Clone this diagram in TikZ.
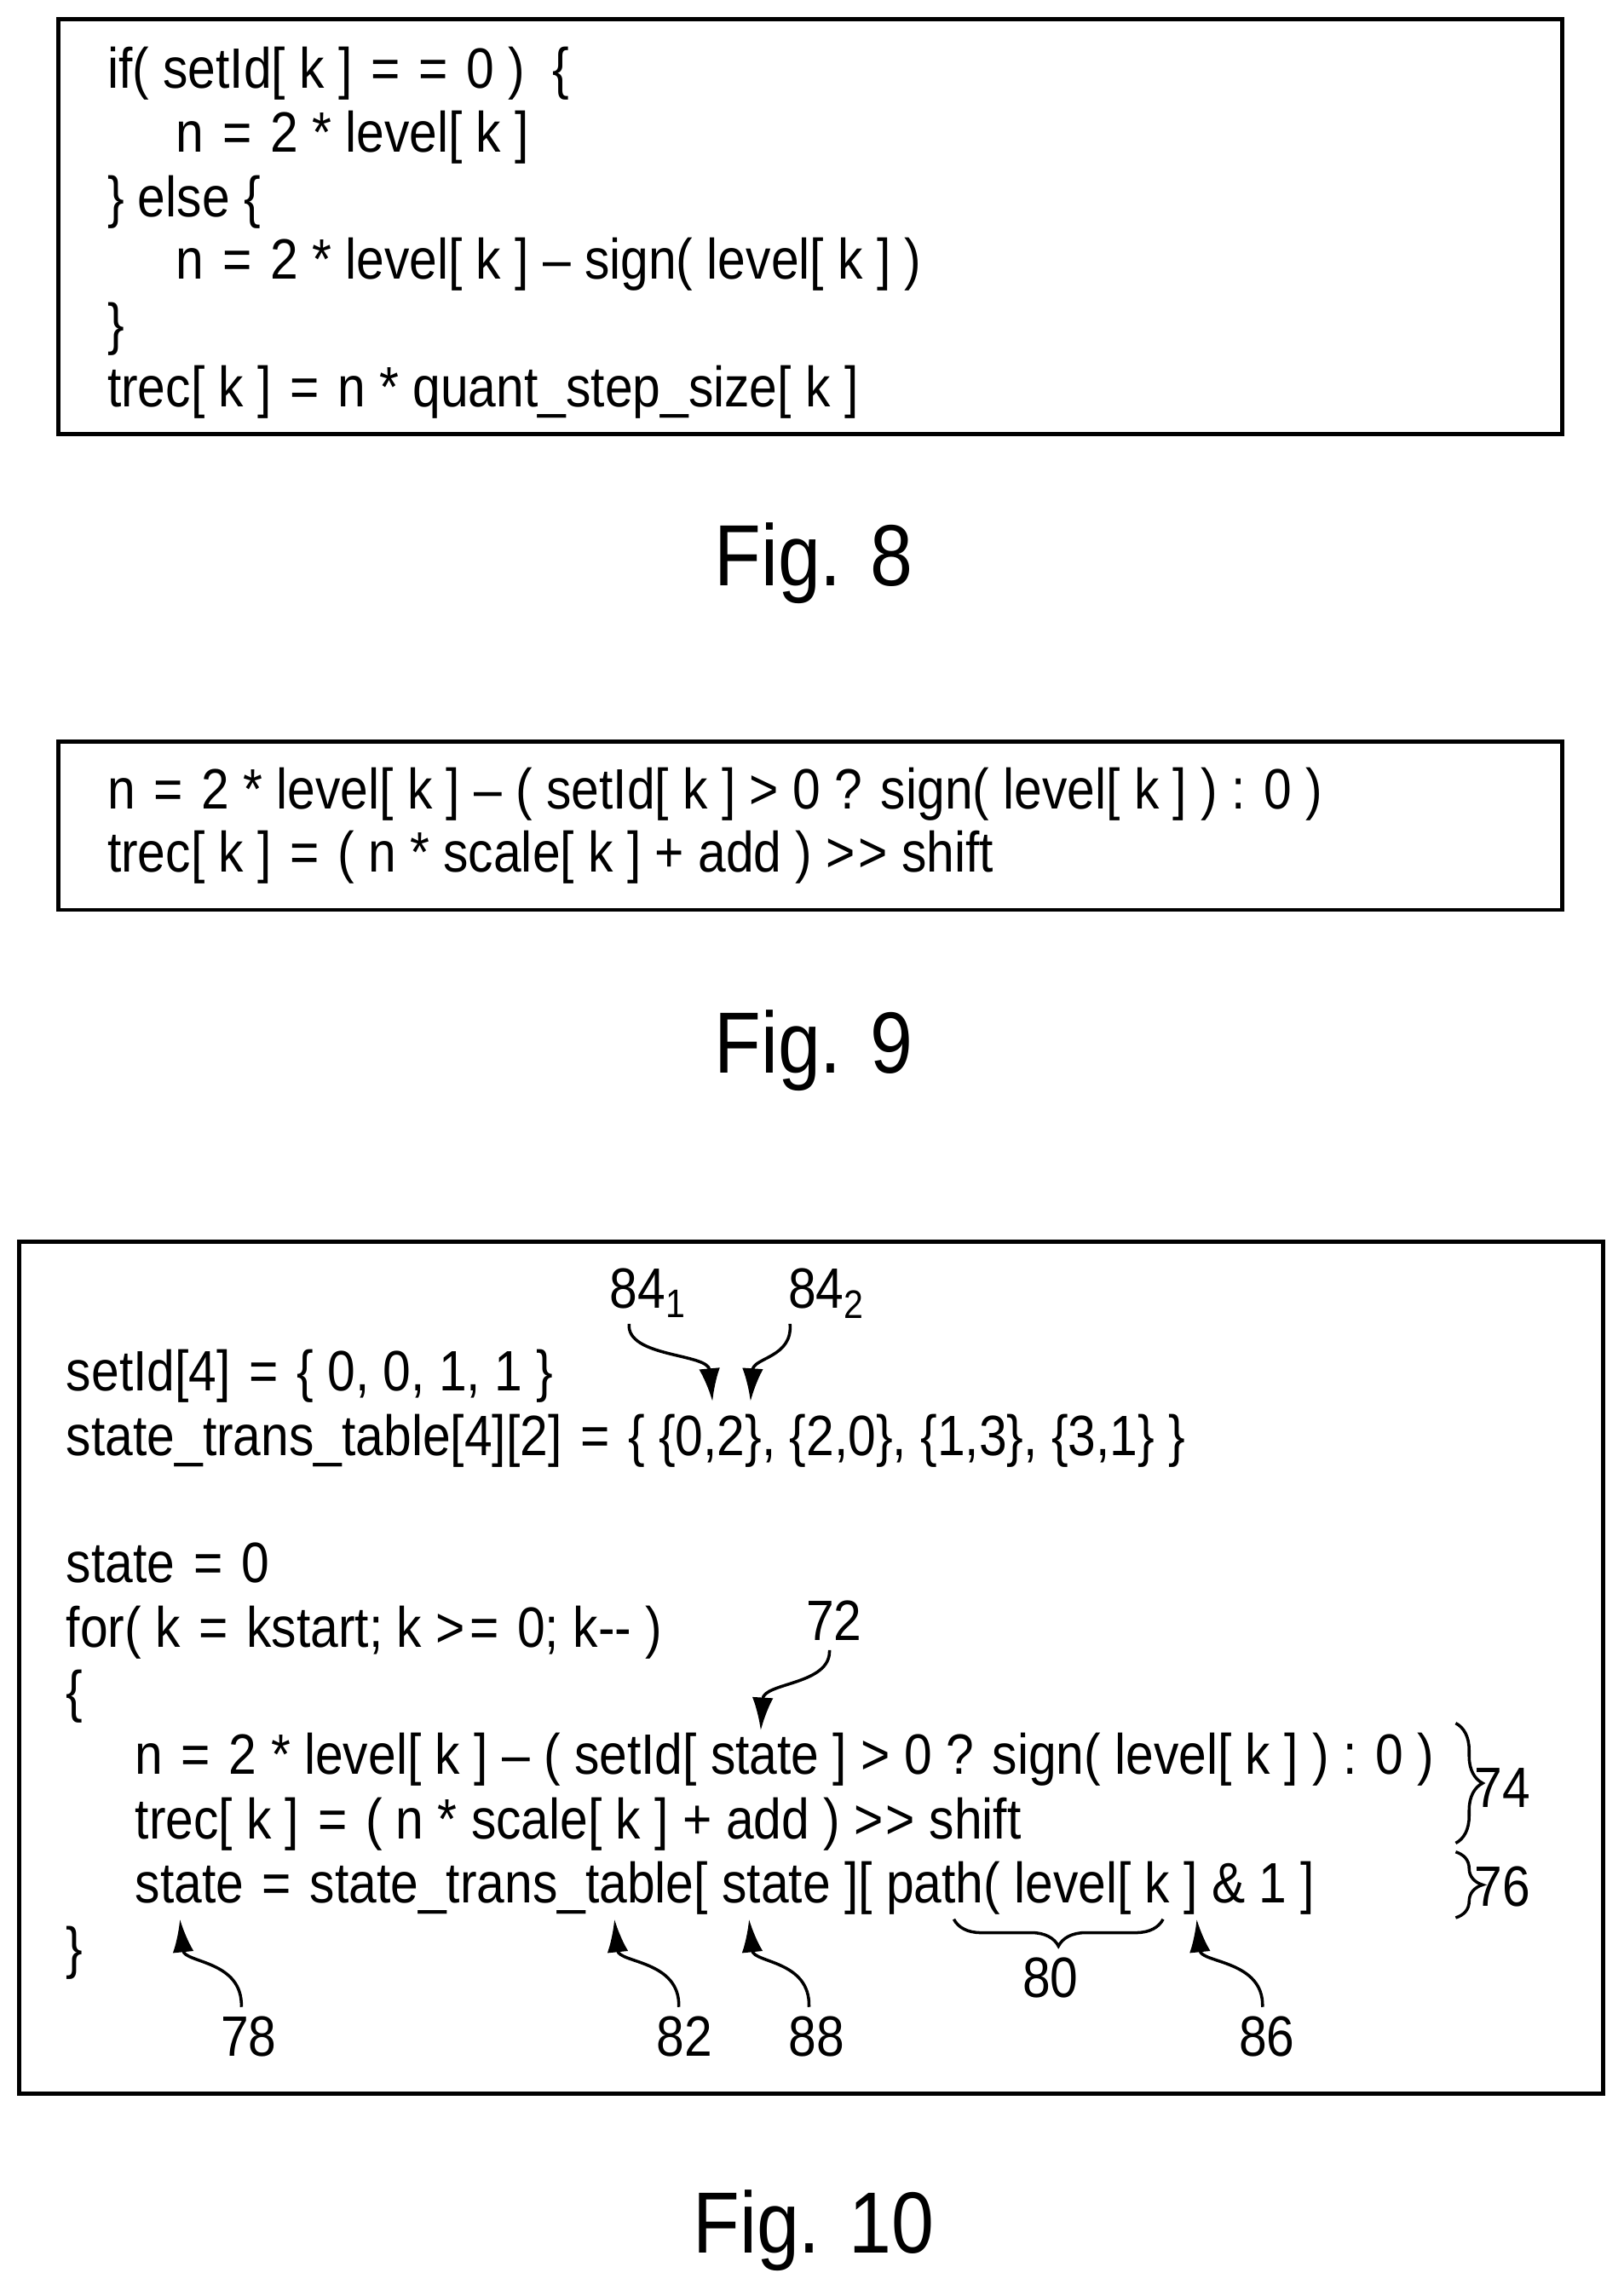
\documentclass[tikz,border=0pt]{standalone}
\usepackage{fontspec}
\setmainfont{Liberation Sans}[FakeStretch=0.88,Ligatures=NoCommon]
\usetikzlibrary{decorations.pathreplacing,arrows.meta}
\newcommand{\myeq}{\hspace{0.08em}=\hspace{0.08em}}
\newcommand{\mygg}{>\hspace{0.05em}>}
\begin{document}
\begin{tikzpicture}[x=0.01717cm,y=-0.01717cm,
  code/.style={anchor=base west,inner sep=0,font=\fontsize{19}{19}\selectfont},
  lab/.style={anchor=center,inner sep=0,font=\fontsize{19}{19}\selectfont},
  fig/.style={anchor=center,inner sep=0,font=\fontsize{29}{29}\selectfont},
  box/.style={line width=1.4pt},
  arr/.style={line width=1pt,-{Latex[length=11pt,width=7pt]}},
  br/.style={line width=1pt,decorate,decoration={brace,amplitude=9pt}}]
\useasboundingbox (0,0) rectangle (1110,1569.6);
% Fig 8
\draw[box] (40,13) rectangle (1068,297);
\node[code] (a1) at (73,60) {if( setId[ k ] \myeq\,\myeq{} 0 )\ \ \{};
\node[code] (a2) at (120,104) {n \myeq{} 2 * level[ k ]};
\node[code] (a3) at (73,148) {\} else \{};
\node[code] (a4) at (120,191) {n \myeq{} 2 * level[ k ] -- sign( level[ k ] )};
\node[code] (a5) at (73,235) {\}};
\node[code] (a6) at (73,278) {trec[ k ] \myeq{} n * quant\_step\_size[ k ]};
\node[fig] (f8) at (556,385) {Fig. 8};
% Fig 9
\draw[box] (40,507) rectangle (1068,622);
\node[code] (b1) at (73,553) {n \myeq{} 2 * level[ k ] -- ( setId[ k ] > 0 ? sign( level[ k ] ) : 0 )};
\node[code] (b2) at (73,596) {trec[ k ] \myeq{} ( n * scale[ k ] + add ) \mygg{} shift};
\node[fig] (f9) at (556,718) {Fig. 9};
% Fig 10
\draw[box] (13,849) rectangle (1096,1431);
\node[code] (c1) at (45,951) {setId[4] \myeq{} \{ 0, 0, 1, 1 \}};
\node[code] (c2) at (45,995) {state\_trans\_table[4][2] \myeq{} \{ \{0,2\}, \{2,0\}, \{1,3\}, \{3,1\} \}};
\node[code] (c3) at (45,1082) {state \myeq{} 0};
\node[code] (c4) at (45,1126) {for( k \myeq{} kstart; k >\myeq{} 0; k-{}- )};
\node[code] (c5) at (45,1170) {\{};
\node[code] (c6) at (92,1213) {n \myeq{} 2 * level[ k ] -- ( setId[ state ] > 0 ? sign( level[ k ] ) : 0 )};
\node[code] (c7) at (92,1257) {trec[ k ] \myeq{} ( n * scale[ k ] + add ) \mygg{} shift};
\node[code] (c8) at (92,1301) {state \myeq{} state\_trans\_table[ state ][ path( level[ k ] \& 1 ]};
\node[code] (c9) at (45,1345) {\}};
\node[fig] (f10) at (556,1525) {Fig. 10};
% labels
\node[lab] (l841) at (443,884) {84\textsubscript{1}};
\node[lab] (l842) at (565,884) {84\textsubscript{2}};
\node[lab] (l72) at (570,1108) {72};
\node[lab] (l74) at (1027,1222) {74};
\node[lab] (l76) at (1027,1290) {76};
\node[lab] (l80) at (718,1352) {80};
\node[lab] (l78) at (170,1392) {78};
\node[lab] (l82) at (468,1392) {82};
\node[lab] (l88) at (558,1392) {88};
\node[lab] (l86) at (866,1392) {86};
\coordinate (s841) at (430,905); \coordinate (t841) at (487,958);
\coordinate (s842) at (540,905); \coordinate (t842) at (513,958);
\coordinate (s72) at (567,1128); \coordinate (t72) at (520,1183);
\coordinate (s78) at (165,1372); \coordinate (t78) at (123,1312);
\coordinate (s82) at (464,1372); \coordinate (t82) at (420,1312);
\coordinate (s88) at (553,1372); \coordinate (t88) at (512,1312);
\coordinate (s86) at (863,1372); \coordinate (t86) at (818,1312);
\draw[arr] (s841) .. controls (428,928) and (484,925) .. (t841);
\draw[arr] (s842) .. controls (542,928) and (515,928) .. (t842);
\draw[arr] (s72) .. controls (568,1152) and (522,1150) .. (t72);
\draw[arr] (s78) .. controls (166,1340) and (126,1342) .. (t78);
\draw[arr] (s82) .. controls (465,1340) and (423,1342) .. (t82);
\draw[arr] (s88) .. controls (554,1340) and (515,1342) .. (t88);
\draw[arr] (s86) .. controls (864,1340) and (821,1342) .. (t86);
\coordinate (b74a) at (995,1178);
\coordinate (b74b) at (995,1260);
\coordinate (b76a) at (995,1266);
\coordinate (b76b) at (995,1311);
\coordinate (b80a) at (652,1312);
\coordinate (b80b) at (795,1312);
\draw[br] (b74a) -- (b74b);
\draw[br] (b76a) -- (b76b);
\draw[br] (b80b) -- (b80a);
\end{tikzpicture}
\end{document}
